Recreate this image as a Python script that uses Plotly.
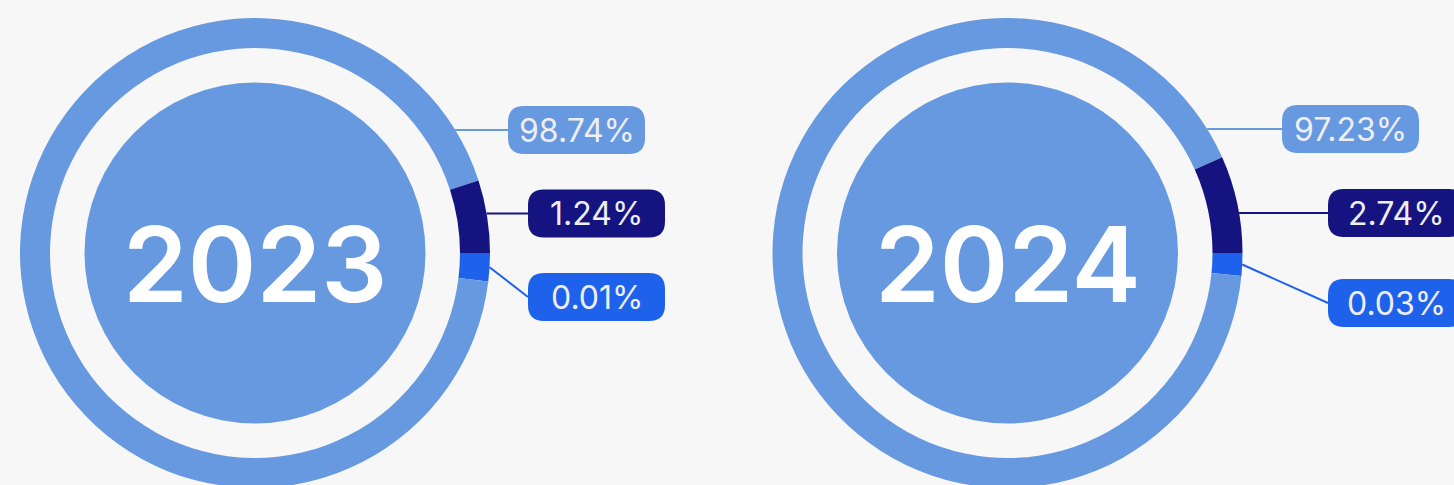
import math
import plotly.graph_objects as go

# ---------------- data ----------------
years = ["2023", "2024"]
# slice order: dark, light, bright (label order: light on top, dark middle, bright bottom)
slice_names = ["Share B", "Share A", "Share C"]
pct_2023 = [1.24, 98.74, 0.01]          # percentages printed in the labels
pct_2024 = [2.74, 97.23, 0.03]
arc_2023 = [5.00, 93.06, 1.94]          # ring arc shares as drawn in the picture
arc_2024 = [6.67, 91.77, 1.56]
slice_colors = ["#14137F", "#6699DF", "#1E62EC"]

# ---------------- layout constants ----------------
W, H = 1454, 488
BG = "#F7F7F7"
R_OUT, R_IN, R_CORE = 235, 205, 170.5
centers = [(255, 253), (1007.5, 253)]
# label boxes: (left x, centre y) for [dark, light, bright]
boxes = [
    [(528, 213.5), (508, 130), (528, 297)],
    [(1328, 213), (1282, 129), (1328, 303)],
]
BOX_W, BOX_H, BOX_R = 137, 48, 16
LABEL_FONT = "Inter"
TEXT_COL = "#EEEEF3"

pcts = [pct_2023, pct_2024]
arcs = [arc_2023, arc_2024]

fig = go.Figure()
shapes = []
annotations = []


def rrect(x0, y0, x1, y1, r):
    return (f"M {x0+r},{y0} L {x1-r},{y0} Q {x1},{y0} {x1},{y0+r} "
            f"L {x1},{y1-r} Q {x1},{y1} {x1-r},{y1} L {x0+r},{y1} "
            f"Q {x0},{y1} {x0},{y1-r} L {x0},{y0+r} Q {x0},{y0} {x0+r},{y0} Z")


for i, year in enumerate(years):
    cx, cy = centers[i]
    # ring: clockwise from 3 o'clock -> bright, light, dark (dark ends back at 3 o'clock)
    order = [2, 1, 0]
    fig.add_trace(go.Pie(
        labels=[slice_names[k] for k in order],
        values=[arcs[i][k] for k in order],
        customdata=[pcts[i][k] for k in order],
        hole=R_IN / R_OUT, sort=False, direction="clockwise", rotation=90,
        marker=dict(colors=[slice_colors[k] for k in order], line=dict(width=0)),
        textinfo="none", showlegend=False,
        hovertemplate="%{label}: %{customdata}%<extra>" + year + "</extra>",
        domain=dict(x=[(cx - R_OUT) / W, (cx + R_OUT) / W],
                    y=[(H - cy - R_OUT) / H, (H - cy + R_OUT) / H]),
    ))
    # inner filled disc
    shapes.append(dict(type="circle", xref="x", yref="y",
                       x0=cx - R_CORE, x1=cx + R_CORE, y0=cy - R_CORE, y1=cy + R_CORE,
                       fillcolor=slice_colors[1], line=dict(width=0), layer="below"))
    annotations.append(dict(x=cx, y=cy + 11, xref="x", yref="y", text=year,
                            showarrow=False, xanchor="center", yanchor="middle",
                            font=dict(family="Inter", size=104, color="white", weight=600)))
    # labels + leader lines
    arc_deg = [a * 3.6 for a in arcs[i]]
    for k in range(3):
        bx, by = boxes[i][k]
        col = slice_colors[k]
        if k == 2:
            ang = math.radians(-arc_deg[2] / 2)
            sx, sy = cx + R_OUT * math.cos(ang), cy - R_OUT * math.sin(ang)
        else:
            sy = by
            sx = cx + math.sqrt(R_OUT ** 2 - (cy - by) ** 2)
        shapes.append(dict(type="line", xref="x", yref="y", x0=sx, y0=sy, x1=bx, y1=by,
                           line=dict(color=col, width=2)))
        shapes.append(dict(type="path", xref="x", yref="y",
                           path=rrect(bx, by - BOX_H / 2, bx + BOX_W, by + BOX_H / 2, BOX_R),
                           fillcolor=col, line=dict(width=0)))
        annotations.append(dict(x=bx + BOX_W / 2, y=by, xref="x", yref="y",
                                text=f"{pcts[i][k]:.2f}%", showarrow=False,
                                xanchor="center", yanchor="middle",
                                font=dict(family=LABEL_FONT, size=32, color=TEXT_COL, weight=400)))

fig.update_layout(
    width=W, height=H, margin=dict(l=0, r=0, t=0, b=0),
    paper_bgcolor=BG, plot_bgcolor=BG,
    xaxis=dict(range=[0, W], visible=False, fixedrange=True),
    yaxis=dict(range=[H, 0], visible=False, fixedrange=True),
    shapes=shapes, annotations=annotations, showlegend=False,
)

fig.write_html("out.html", config={"displayModeBar": False},
               post_script="document.body.style.margin='0';document.body.style.overflow='hidden';")
